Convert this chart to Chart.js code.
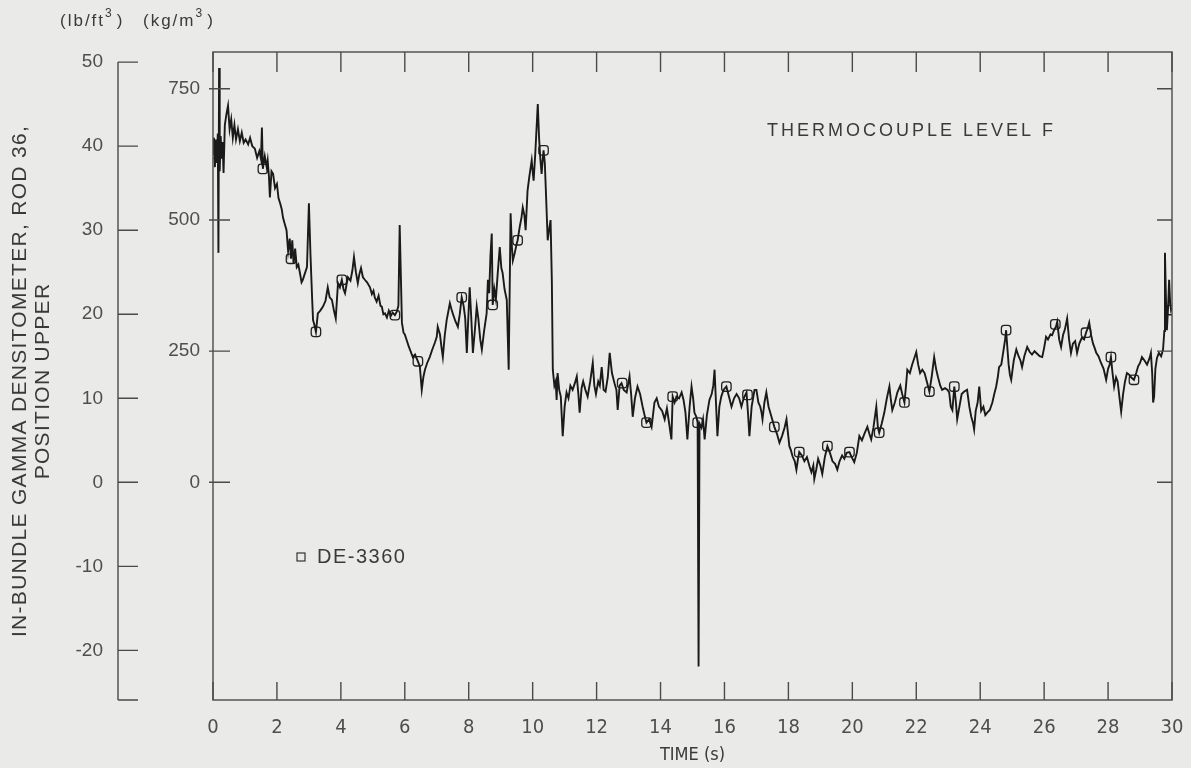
<!DOCTYPE html>
<html>
<head>
<meta charset="utf-8">
<script src="https://cdn.jsdelivr.net/npm/chart.js@4.4.1/dist/chart.umd.min.js"></script>
<style>
    html, body { margin: 0; padding: 0; background: #eaeae8; }
    canvas { display: block; }
</style>
</head>
<body>
<canvas id="densitometer" width="1191" height="768"></canvas>
<script>
// In-bundle gamma densitometer trace, rod 36 upper position (lb/ft3)

const TIME_S = [
    0.00, 0.03, 0.06, 0.09, 0.12, 0.15, 0.17, 0.19, 0.21, 0.24, 0.27, 0.30, 0.33, 0.37, 0.42, 0.47, 0.52, 0.57, 0.62, 0.67,
    0.72, 0.78, 0.84, 0.90, 0.96, 1.02, 1.10, 1.16, 1.23, 1.31, 1.38, 1.45, 1.50, 1.53, 1.56, 1.62, 1.68, 1.71, 1.75, 1.78,
    1.83, 1.88, 1.94, 2.00, 2.05, 2.10, 2.15, 2.19, 2.24, 2.30, 2.35, 2.40, 2.44, 2.48, 2.52, 2.57, 2.62, 2.67, 2.72, 2.77,
    2.81, 2.87, 2.94, 3.00, 3.05, 3.10, 3.13, 3.18, 3.22, 3.28, 3.35, 3.44, 3.52, 3.59, 3.65, 3.72, 3.78, 3.84, 3.91, 3.97,
    4.03, 4.08, 4.13, 4.18, 4.22, 4.30, 4.36, 4.41, 4.47, 4.53, 4.58, 4.63, 4.69, 4.75, 4.82, 4.91, 4.97, 5.02, 5.06, 5.12,
    5.18, 5.24, 5.28, 5.33, 5.38, 5.44, 5.50, 5.56, 5.62, 5.69, 5.75, 5.80, 5.84, 5.88, 5.91, 5.96, 6.00, 6.06, 6.12, 6.18,
    6.25, 6.32, 6.41, 6.47, 6.53, 6.58, 6.63, 6.70, 6.78, 6.86, 6.94, 7.00, 7.03, 7.10, 7.15, 7.19, 7.25, 7.31, 7.36, 7.41,
    7.46, 7.50, 7.58, 7.66, 7.72, 7.78, 7.84, 7.89, 7.94, 7.98, 8.03, 8.08, 8.13, 8.19, 8.25, 8.30, 8.36, 8.41, 8.48, 8.56,
    8.60, 8.64, 8.68, 8.72, 8.75, 8.80, 8.85, 8.90, 8.97, 9.02, 9.06, 9.12, 9.19, 9.25, 9.31, 9.35, 9.38, 9.44, 9.50, 9.53,
    9.60, 9.65, 9.69, 9.74, 9.78, 9.84, 9.90, 9.97, 10.00, 10.03, 10.08, 10.12, 10.16, 10.20, 10.24, 10.28, 10.31, 10.34, 10.38, 10.42,
    10.47, 10.52, 10.56, 10.60, 10.63, 10.68, 10.72, 10.75, 10.78, 10.83, 10.88, 10.94, 11.00, 11.06, 11.12, 11.18, 11.25, 11.32, 11.38, 11.43,
    11.47, 11.53, 11.58, 11.65, 11.72, 11.80, 11.88, 11.93, 11.98, 12.05, 12.10, 12.16, 12.22, 12.28, 12.35, 12.41, 12.48, 12.56, 12.62, 12.66,
    12.72, 12.78, 12.85, 12.94, 13.03, 13.08, 13.13, 13.20, 13.28, 13.36, 13.44, 13.50, 13.56, 13.64, 13.72, 13.81, 13.88, 13.95, 14.05, 14.13,
    14.20, 14.27, 14.34, 14.38, 14.44, 14.50, 14.58, 14.66, 14.72, 14.78, 14.84, 14.91, 14.97, 15.02, 15.06, 15.12, 15.16, 15.19, 15.22, 15.28,
    15.33, 15.38, 15.45, 15.53, 15.60, 15.65, 15.69, 15.74, 15.78, 15.84, 15.90, 15.97, 16.06, 16.14, 16.22, 16.30, 16.38, 16.46, 16.53, 16.60,
    16.69, 16.74, 16.78, 16.85, 16.94, 17.00, 17.06, 17.12, 17.16, 17.19, 17.25, 17.31, 17.38, 17.47, 17.56, 17.64, 17.72, 17.80, 17.88, 17.94,
    18.03, 18.08, 18.13, 18.20, 18.25, 18.30, 18.34, 18.42, 18.50, 18.58, 18.66, 18.72, 18.78, 18.81, 18.87, 18.93, 19.00, 19.06, 19.14, 19.22,
    19.30, 19.38, 19.46, 19.53, 19.60, 19.68, 19.75, 19.82, 19.91, 19.98, 20.06, 20.14, 20.22, 20.30, 20.38, 20.47, 20.53, 20.59, 20.66, 20.75,
    20.80, 20.84, 20.92, 21.00, 21.08, 21.16, 21.20, 21.25, 21.33, 21.41, 21.50, 21.56, 21.63, 21.68, 21.72, 21.80, 21.87, 21.94, 22.00, 22.06,
    22.12, 22.19, 22.26, 22.33, 22.41, 22.48, 22.56, 22.62, 22.68, 22.75, 22.81, 22.90, 22.98, 23.03, 23.08, 23.13, 23.19, 23.24, 23.28, 23.35,
    23.42, 23.50, 23.59, 23.66, 23.72, 23.78, 23.81, 23.86, 23.92, 23.97, 24.03, 24.10, 24.16, 24.22, 24.30, 24.38, 24.44, 24.50, 24.55, 24.59,
    24.66, 24.72, 24.78, 24.81, 24.85, 24.89, 24.93, 24.97, 25.05, 25.13, 25.20, 25.26, 25.31, 25.38, 25.47, 25.55, 25.62, 25.70, 25.78, 25.86,
    25.94, 26.00, 26.06, 26.12, 26.20, 26.25, 26.31, 26.37, 26.41, 26.47, 26.53, 26.59, 26.65, 26.72, 26.78, 26.84, 26.90, 26.97, 27.03, 27.10,
    27.18, 27.25, 27.31, 27.36, 27.41, 27.47, 27.53, 27.58, 27.63, 27.70, 27.78, 27.86, 27.94, 28.00, 28.05, 28.09, 28.14, 28.19, 28.25, 28.30,
    28.36, 28.41, 28.47, 28.53, 28.59, 28.66, 28.72, 28.81, 28.88, 28.94, 29.00, 29.06, 29.14, 29.22, 29.30, 29.34, 29.38, 29.41, 29.44, 29.48,
    29.53, 29.59, 29.66, 29.72, 29.76, 29.78, 29.81, 29.84, 29.88, 29.91, 29.94, 29.97, 30.00,
];

const DENSITY_LB = [
    39.1, 41.0, 37.5, 40.8, 38.0, 41.5, 27.3, 49.3, 37.0, 41.2, 38.5, 40.5, 36.8, 42.5, 43.8, 44.8, 42.0, 43.2, 41.0, 42.5,
    40.8, 42.0, 40.6, 41.6, 40.4, 40.8, 40.2, 41.0, 40.0, 39.7, 38.6, 39.4, 38.5, 42.2, 37.3, 38.8, 37.5, 38.3, 36.4, 33.9,
    37.0, 36.7, 35.0, 35.5, 33.8, 33.2, 32.5, 31.5, 30.8, 30.0, 27.5, 29.0, 26.6, 28.8, 26.0, 27.8, 25.6, 25.9, 24.9, 23.8,
    24.1, 24.8, 25.6, 33.2, 27.0, 22.0, 19.3, 18.6, 17.9, 20.1, 20.4, 20.9, 21.6, 23.2, 22.0, 21.7, 20.5, 19.5, 23.7, 23.2,
    24.1, 23.0, 22.5, 23.6, 24.4, 24.0, 25.2, 26.8, 25.0, 23.7, 24.8, 25.5, 24.4, 24.1, 23.8, 23.2, 22.4, 22.8, 22.0, 21.5,
    22.2, 21.0, 20.9, 20.0, 20.1, 19.6, 20.4, 19.8, 20.2, 19.9, 20.3, 21.0, 30.6, 24.0, 19.0, 17.8, 17.6, 16.9, 16.2, 15.6,
    14.9, 15.2, 14.4, 13.8, 11.0, 12.5, 13.4, 14.2, 14.9, 15.8, 16.6, 17.3, 18.5, 17.6, 16.0, 14.9, 17.5, 19.3, 20.3, 21.3,
    20.6, 20.1, 19.2, 18.5, 20.0, 22.0, 21.0, 19.5, 15.4, 19.0, 23.2, 19.5, 15.4, 18.0, 20.9, 19.5, 17.0, 15.8, 18.0, 20.1,
    24.1, 22.5, 27.0, 29.6, 21.1, 23.0, 21.8, 24.5, 28.0, 25.5, 24.9, 23.0, 21.7, 13.4, 32.0, 28.0, 26.4, 27.3, 28.4, 28.8,
    30.5, 31.5, 32.7, 31.8, 30.0, 34.7, 36.5, 38.3, 37.0, 35.9, 39.0, 42.0, 45.0, 41.0, 38.5, 36.7, 38.2, 39.5, 38.0, 34.0,
    28.8, 30.2, 31.2, 24.0, 13.4, 11.5, 12.0, 9.8, 13.0, 11.0, 10.2, 5.5, 9.0, 10.7, 10.0, 11.5, 11.0, 11.8, 12.6, 10.5,
    8.3, 11.2, 12.0, 11.0, 10.2, 12.0, 14.2, 11.5, 10.5, 12.0, 11.5, 13.7, 11.0, 10.8, 12.5, 15.4, 13.0, 11.8, 11.0, 8.6,
    11.5, 11.8, 11.0, 10.7, 12.6, 10.5, 7.8, 10.0, 11.4, 10.5, 9.0, 8.0, 7.1, 7.5, 6.6, 9.5, 10.0, 9.0, 8.5, 7.5,
    8.8, 7.0, 5.1, 10.2, 9.5, 10.2, 10.0, 10.7, 9.8, 8.3, 5.1, 9.0, 11.4, 10.0, 8.3, 7.8, 7.1, -21.9, 7.0, 6.5,
    7.5, 5.1, 8.0, 9.8, 10.5, 11.5, 13.4, 9.0, 5.5, 9.0, 10.2, 11.0, 11.4, 10.2, 9.0, 10.0, 10.5, 10.0, 9.0, 10.0,
    10.7, 8.0, 5.5, 9.0, 11.0, 11.0, 9.5, 9.0, 8.3, 7.5, 9.5, 10.7, 9.0, 7.8, 6.6, 5.8, 4.7, 5.5, 6.5, 7.5,
    4.3, 3.8, 3.1, 2.5, 1.5, 2.8, 3.6, 3.2, 2.5, 3.0, 1.9, 1.2, 2.0, 0.4, 1.5, 2.8, 2.0, 1.0, 3.0, 4.3,
    3.5, 2.5, 2.2, 1.5, 2.5, 3.2, 2.8, 3.5, 3.6, 3.0, 2.4, 3.5, 5.5, 5.0, 5.8, 6.6, 5.8, 5.1, 6.5, 9.0,
    6.5, 5.9, 7.0, 8.3, 10.0, 11.4, 10.0, 8.6, 9.5, 10.7, 11.5, 10.5, 9.5, 11.5, 13.4, 13.0, 14.0, 14.8, 15.5, 14.0,
    13.0, 13.4, 13.0, 12.0, 10.8, 12.5, 14.9, 13.5, 12.5, 11.5, 11.0, 11.2, 11.0, 10.7, 9.0, 8.6, 11.4, 9.5, 7.5, 9.0,
    10.5, 10.8, 11.0, 9.0, 7.8, 7.0, 6.3, 8.5, 9.5, 11.4, 8.5, 9.0, 8.0, 8.3, 8.6, 9.5, 10.5, 11.4, 12.5, 13.7,
    14.0, 15.5, 17.0, 18.1, 16.0, 14.0, 12.8, 12.2, 14.5, 15.8, 15.0, 14.5, 13.7, 15.0, 16.1, 15.5, 15.2, 15.6, 15.3, 15.0,
    14.9, 16.0, 17.3, 17.0, 17.6, 17.5, 18.1, 18.5, 19.1, 17.0, 16.1, 17.5, 18.2, 19.5, 17.0, 15.4, 16.5, 16.8, 15.4, 16.5,
    17.2, 17.0, 17.8, 18.3, 19.0, 17.5, 16.5, 16.0, 15.4, 15.0, 14.2, 13.5, 12.2, 13.5, 14.0, 14.9, 13.0, 11.4, 12.5, 12.0,
    10.0, 8.4, 10.5, 12.0, 13.0, 12.8, 12.5, 12.2, 13.0, 13.8, 14.2, 14.9, 14.5, 14.0, 14.8, 15.4, 13.0, 9.5, 10.2, 13.5,
    14.8, 15.4, 15.0, 15.8, 18.0, 27.3, 22.0, 18.1, 21.0, 24.1, 21.5, 20.5, 20.8,
];

// DE-3360 symbol positions
const MARK_TIME_S = [
    0.00, 1.56, 2.44, 3.22, 4.03, 5.69, 6.41, 7.78, 8.75, 9.53, 10.34, 12.80, 13.56, 14.38, 15.16, 16.06,
    16.72, 17.56, 18.34, 19.22, 19.91, 20.84, 21.63, 22.41, 23.19, 24.81, 26.35, 27.31, 28.09, 28.81, 29.97,
];
const MARK_LB = [
    39.1, 37.3, 26.6, 17.9, 24.1, 19.9, 14.4, 22.0, 21.1, 28.8, 39.5, 11.8, 7.1, 10.2, 7.1, 11.4,
    10.4, 6.6, 3.6, 4.3, 3.6, 5.9, 9.5, 10.8, 11.4, 18.1, 18.8, 17.8, 14.9, 12.2, 20.5,
];

const TIME_TICKS = [0, 2, 4, 6, 8, 10, 12, 14, 16, 18, 20, 22, 24, 26, 28, 30];
const LB_TICKS = [-20, -10, 0, 10, 20, 30, 40, 50];
const KG_TICKS = [0, 250, 500, 750];

const LB_MIN = -25.9;
const LB_MAX = 51.2;
const KG_PER_LB = 16.018;

const INK = '#1a1a1a';
const LABEL_GREY = '#4e4e4e';
const FRAME_GREY = '#4a4a4a';
const SANS = "'Liberation Sans', Arial, sans-serif";
const NARROW = "'Liberation Sans Narrow', 'DejaVu Sans Condensed', sans-serif";

// frame, inward tick marks, the detached lb/ft3 axis and the loose captions
const frameAndCaptions = {
    id: 'frameAndCaptions',
    afterDraw(chart) {
        const { ctx, chartArea: a, scales } = chart;
        const x = scales.x, kg = scales.kg, lb = scales.y;
        ctx.save();
        ctx.strokeStyle = FRAME_GREY;
        ctx.lineWidth = 1.4;
        ctx.strokeRect(a.left, a.top, a.right - a.left, a.bottom - a.top);

        ctx.beginPath();
        TIME_TICKS.forEach(t => {
            const px = x.getPixelForValue(t);
            ctx.moveTo(px, a.bottom); ctx.lineTo(px, a.bottom - 18);
            ctx.moveTo(px, a.top); ctx.lineTo(px, a.top + 20);
        });
        KG_TICKS.forEach(v => {
            const py = kg.getPixelForValue(v);
            ctx.moveTo(a.left - 4, py); ctx.lineTo(a.left + 17, py);
            ctx.moveTo(a.right, py); ctx.lineTo(a.right - 15, py);
        });
        const ax = lb.right;
        ctx.moveTo(ax, lb.getPixelForValue(50)); ctx.lineTo(ax, a.bottom);
        LB_TICKS.forEach(v => {
            const py = lb.getPixelForValue(v);
            ctx.moveTo(ax, py); ctx.lineTo(ax + 20, py);
        });
        ctx.moveTo(ax, a.bottom); ctx.lineTo(ax + 20, a.bottom);
        ctx.stroke();

        // captions
        ctx.fillStyle = '#3a3a3a';
        ctx.textBaseline = 'middle';
        ctx.font = `18px ${SANS}`;
        ctx.letterSpacing = '3px';
        ctx.textAlign = 'left';
        ctx.fillText('THERMOCOUPLE LEVEL F', 767, 131);

        // legend entry for the symbol series
        const label = chart.data.datasets[1].label;
        ctx.lineWidth = 1.2;
        ctx.strokeStyle = '#333';
        ctx.strokeRect(297, 553, 8, 8);
        ctx.font = `20px ${SANS}`;
        ctx.letterSpacing = '1.5px';
        ctx.fillText(label, 317, 557);

        // unit header with superscripts
        const units = [['(lb/ft', 60], ['(kg/m', 143]];
        units.forEach(([txt, ux]) => {
            ctx.font = `17px ${SANS}`;
            ctx.letterSpacing = '2px';
            ctx.fillText(txt, ux, 21);
            let w = ctx.measureText(txt).width;
            ctx.font = `12px ${SANS}`;
            ctx.fillText('3', ux + w, 14);
            w += ctx.measureText('3').width + 3;
            ctx.font = `17px ${SANS}`;
            ctx.fillText(')', ux + w, 21);
        });

        // rotated y title, both lines centred on the plot height
        ctx.font = `21px ${SANS}`;
        ctx.textAlign = 'center';
        ctx.letterSpacing = '1.3px';
        [['IN-BUNDLE GAMMA DENSITOMETER, ROD 36,', 20], ['POSITION UPPER', 43]].forEach(([txt, tx]) => {
            ctx.save();
            ctx.translate(tx, 381);
            ctx.rotate(-Math.PI / 2);
            ctx.fillText(txt, 0, 0);
            ctx.restore();
        });
        ctx.restore();
    },
};

const trace = TIME_S.map((t, i) => ({ x: t, y: DENSITY_LB[i] }));
const marks = MARK_TIME_S.map((t, i) => ({ x: t, y: MARK_LB[i] }));

const ctx = document.getElementById('densitometer').getContext('2d');
new Chart(ctx, {
    type: 'line',
    data: {
        datasets: [
            {
                label: 'trace',
                data: trace,
                borderColor: INK,
                borderWidth: 1.9,
                pointRadius: 0,
                tension: 0,
                yAxisID: 'y',
            },
            {
                label: 'DE-3360',
                data: marks,
                showLine: false,
                pointStyle: 'rectRounded',
                pointRadius: 5.5,
                pointBorderWidth: 1.3,
                pointBorderColor: '#222',
                pointBackgroundColor: 'rgba(0,0,0,0)',
                yAxisID: 'y',
            },
        ],
    },
    options: {
        responsive: false,
        animation: false,
        layout: { padding: { top: 52, right: 19, left: 0, bottom: 0 } },
        plugins: { legend: { display: false }, tooltip: { enabled: false } },
        scales: {
            x: {
                type: 'linear',
                min: 0,
                max: 30,
                afterBuildTicks: s => { s.ticks = TIME_TICKS.map(v => ({ value: v })); },
                afterFit: s => { s.height = 68; },
                // hidden tick marks only reserve the gap above the labels
                grid: { display: false, drawTicks: true, tickLength: 16 },
                border: { display: false },
                ticks: { color: LABEL_GREY, padding: 0, font: { family: NARROW, size: 20 }, autoSkip: false, maxRotation: 0 },
                title: { display: true, text: 'TIME (s)', color: '#3a3a3a', font: { family: NARROW, size: 18 }, padding: { top: 0, bottom: 2 } },
            },
            y: {
                position: 'left',
                weight: 2,
                min: LB_MIN,
                max: LB_MAX,
                afterBuildTicks: s => { s.ticks = LB_TICKS.map(v => ({ value: v })); },
                afterFit: s => { s.width = 118; },
                grid: { display: false, drawTicks: false },
                border: { display: false },
                ticks: { color: LABEL_GREY, padding: 15, font: { family: SANS, size: 19 } },
            },
            kg: {
                position: 'left',
                weight: 1,
                min: LB_MIN * KG_PER_LB,
                max: LB_MAX * KG_PER_LB,
                afterBuildTicks: s => { s.ticks = KG_TICKS.map(v => ({ value: v })); },
                afterFit: s => { s.width = 95; },
                grid: { display: false, drawTicks: false },
                border: { display: false },
                ticks: { color: LABEL_GREY, padding: 13, font: { family: SANS, size: 19 } },
            },
        },
    },
    plugins: [frameAndCaptions],
});
</script>
</body>
</html>
